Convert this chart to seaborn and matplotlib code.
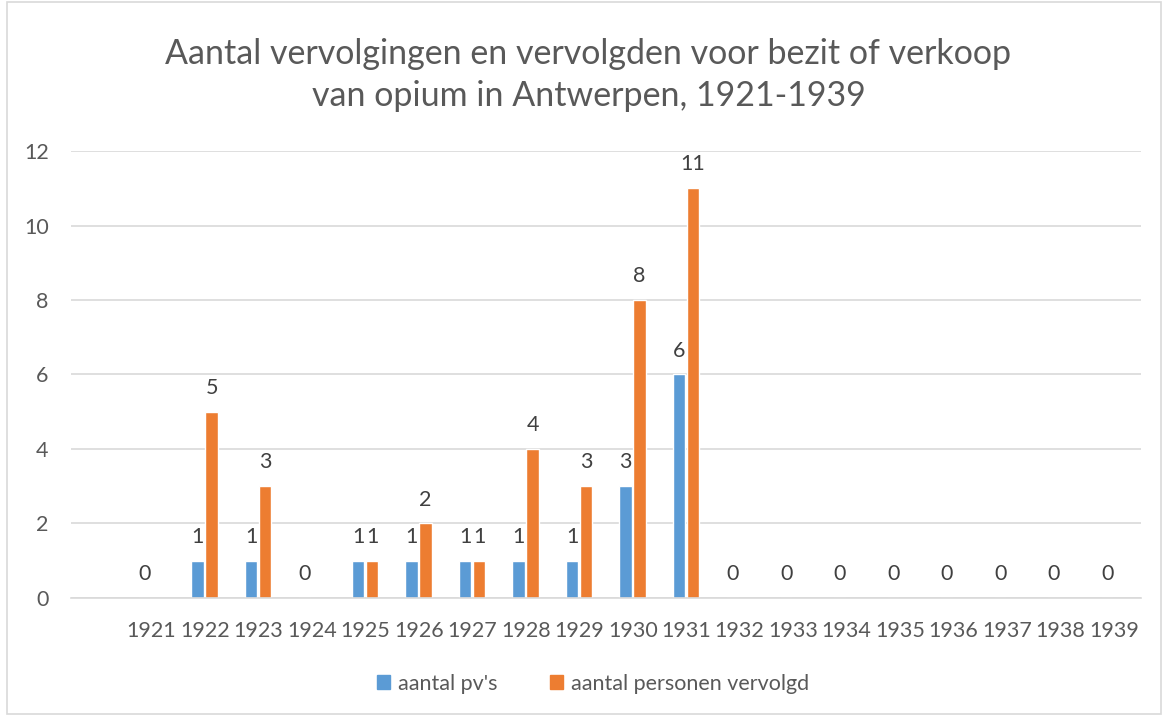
import matplotlib.pyplot as plt
import matplotlib.patches as mpatches
import numpy as np
import pandas as pd
import seaborn as sns

# Data (NaN = no value shown)
years = [str(y) for y in range(1921, 1940)]
pvs = [0, 1, 1, 0, 1, 1, 1, 1, 1, 3, 6, 0, 0, 0, 0, 0, 0, 0, 0]
personen = [np.nan, 5, 3, np.nan, 1, 2, 1, 4, 3, 8, 11,
            np.nan, np.nan, np.nan, np.nan, np.nan, np.nan, np.nan, np.nan]
series_names = ["aantal pv's", "aantal personen vervolgd"]

df = pd.DataFrame({
    "jaar": years * 2,
    "serie": [series_names[0]] * len(years) + [series_names[1]] * len(years),
    "waarde": pvs + personen,
}).dropna()

text_col = "#595959"
colors = {series_names[0]: "#5B9BD5", series_names[1]: "#ED7D31"}

sns.set_style("white")
plt.rcParams["font.family"] = ["Lato", "DejaVu Sans"]

fig = plt.figure(figsize=(11.63, 7.16), dpi=100)
ax = fig.add_axes([0.061, 0.165, 0.920, 0.624])

sns.barplot(data=df, x="jaar", y="waarde", hue="serie", order=years,
            hue_order=series_names, palette=colors, width=0.52, gap=0.1,
            saturation=1, ax=ax, legend=False)

for cont in ax.containers:
    ax.bar_label(cont, fmt="%g", padding=10, fontsize=15.5, color="#404040")

ax.set_ylim(0, 12)
ax.set_yticks(range(0, 13, 2))
# an empty slot before the first year, as in the original
ax.set_xlim(-1.5, len(years) - 0.5)
ax.yaxis.grid(True, color="#D9D9D9", linewidth=1.2)
ax.set_axisbelow(True)
for s in ["top", "right", "left"]:
    ax.spines[s].set_visible(False)
ax.spines["bottom"].set_color("#D9D9D9")
ax.spines["bottom"].set_linewidth(1.2)
ax.tick_params(axis="both", length=0, labelsize=15.5, colors=text_col)
ax.tick_params(axis="x", pad=17)
ax.tick_params(axis="y", pad=16)
ax.set_xlabel("")
ax.set_ylabel("")

fig.text(0.506, 0.895, "Aantal vervolgingen en vervolgden voor bezit of verkoop\nvan opium in Antwerpen, 1921-1939",
         ha="center", va="center", fontsize=24.5, color=text_col, linespacing=1.4)

handles = [mpatches.Patch(color=colors[n], label=n) for n in series_names]
fig.legend(handles=handles, loc="center", bbox_to_anchor=(0.51, 0.045), ncol=2,
           frameon=False, fontsize=15.5, labelcolor=text_col, handlelength=0.6,
           handleheight=0.6, handletextpad=0.4, columnspacing=2.4)

fig.patches.append(mpatches.Rectangle((0.006, 0.003), 0.992, 0.994, transform=fig.transFigure,
                                      fill=False, edgecolor="#D9D9D9", linewidth=1.2))

fig.savefig("out.png", dpi=100)
